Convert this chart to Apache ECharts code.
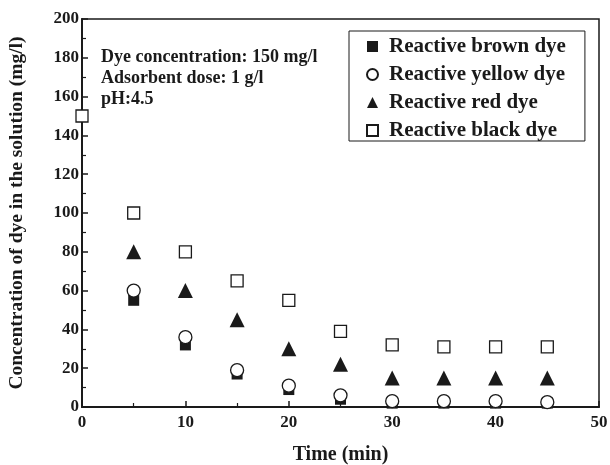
<!DOCTYPE html>
<html>
<head>
<meta charset="utf-8">
<script src="https://cdn.jsdelivr.net/npm/echarts@6/dist/echarts.min.js"></script>
<style>
  html, body { margin: 0; padding: 0; background: #fff; }
  #chart { width: 610px; height: 465px; }
</style>
</head>
<body>
<div id="chart"></div>
<script>
// Contact time (min) and residual dye concentration (mg/l)
const timeMin = [0, 5, 10, 15, 20, 25, 30, 35, 40, 45];
const brownDye = [null, 55, 32, 17, 9, 4, 2, 2, 2, 2];
const yellowDye = [null, 60, 36, 19, 11, 6, 3, 3, 3, 2.5];
const redDye = [null, 80, 60, 45, 30, 22, 15, 15, 15, 15];
const blackDye = [150, 100, 80, 65, 55, 39, 32, 31, 31, 31];
const seriesNames = ['Reactive brown dye', 'Reactive yellow dye', 'Reactive red dye', 'Reactive black dye'];
const xTicks = [0, 10, 20, 30, 40, 50];
const yTicks = [0, 20, 40, 60, 80, 100, 120, 140, 160, 180, 200];
const notes = ['Dye concentration: 150 mg/l', 'Adsorbent dose: 1 g/l', 'pH:4.5'];

const FONT = '"Liberation Serif", "Times New Roman", serif';
const INK = '#1a1a1a';

function pairs(values) {
  const out = [];
  values.forEach((v, i) => { if (v !== null) out.push([timeMin[i], v]); });
  return out;
}

const chart = echarts.init(document.getElementById('chart'), null, { renderer: 'canvas' });

const axisCommon = {
  axisLine: { show: true, onZero: false, lineStyle: { color: INK, width: 2 } },
  axisTick: { show: true, inside: true, length: 6, lineStyle: { color: INK, width: 1.5 } },
  minorTick: { show: true, splitNumber: 2, length: 4, lineStyle: { color: INK, width: 1.2 } },
  splitLine: { show: false },
  axisLabel: { color: INK, fontFamily: FONT, fontWeight: 'bold', fontSize: 17 },
  nameTextStyle: { color: INK, fontFamily: FONT, fontWeight: 'bold', fontSize: 19.5 }
};

chart.setOption({
  animation: false,
  backgroundColor: '#fff',
  grid: {
    left: 82, right: 11, top: 19, bottom: 58,
    outerBoundsMode: 'none', containLabel: false,
    show: true, borderColor: INK, borderWidth: 1.5, backgroundColor: 'transparent'
  },
  xAxis: Object.assign({}, axisCommon, {
    type: 'value', min: xTicks[0], max: xTicks[xTicks.length - 1], interval: 10,
    name: 'Time (min)', nameLocation: 'middle', nameGap: 38,
    nameTextStyle: Object.assign({}, axisCommon.nameTextStyle, { fontSize: 20 }),
    axisLabel: Object.assign({}, axisCommon.axisLabel, { margin: 7 })
  }),
  yAxis: Object.assign({}, axisCommon, {
    type: 'value', min: yTicks[0], max: yTicks[yTicks.length - 1], interval: 20,
    name: 'Concentration of dye in the solution (mg/l)', nameLocation: 'middle', nameGap: 55,
    axisLabel: Object.assign({}, axisCommon.axisLabel, { margin: 3 })
  }),
  legend: {
    orient: 'vertical', left: 349, top: 31,
    data: seriesNames,
    itemWidth: 11, itemHeight: 11, itemGap: 7,
    padding: [5, 19, 0, 17],
    borderColor: INK, borderWidth: 1, backgroundColor: '#fff',
    textStyle: {
      color: INK, fontFamily: FONT, fontWeight: 'bold', fontSize: 21,
      lineHeight: 20, padding: [0, 0, 0, 6]
    }
  },
  graphic: notes.map((t, i) => ({
    type: 'text', left: 101, top: 48 + i * 21,
    style: { text: t, fill: INK, font: 'bold 18px ' + FONT }
  })),
  series: [
    {
      name: seriesNames[0], type: 'scatter', data: pairs(brownDye),
      symbol: 'rect', symbolSize: 11, z: 2,
      itemStyle: { color: INK, opacity: 1 }
    },
    {
      name: seriesNames[1], type: 'scatter', data: pairs(yellowDye),
      symbol: 'circle', symbolSize: 13, z: 3,
      itemStyle: { color: '#fff', borderColor: INK, borderWidth: 1.3, opacity: 1 }
    },
    {
      name: seriesNames[2], type: 'scatter', data: pairs(redDye),
      symbol: 'triangle', symbolSize: 15, z: 3,
      itemStyle: { color: INK, opacity: 1 }
    },
    {
      name: seriesNames[3], type: 'scatter', data: pairs(blackDye),
      symbol: 'rect', symbolSize: 12, z: 3,
      itemStyle: { color: '#fff', borderColor: INK, borderWidth: 1.3, opacity: 1 }
    }
  ]
});
</script>
</body>
</html>
